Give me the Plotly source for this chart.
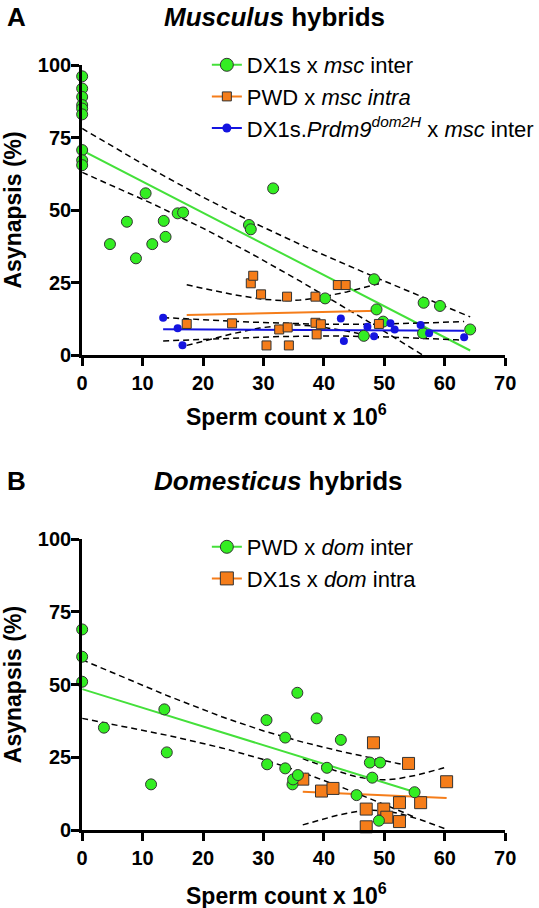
import numpy as np
import plotly.graph_objects as go

# ---------------- data ----------------
# Panel A: Musculus hybrids
a_dx1s_x = [0, 0, 0, 0, 0, 0, 0, 0, 0, 4.6, 7.4, 8.9, 10.5, 11.6, 13.5, 13.8, 15.8, 16.7,
            27.6, 27.9, 31.6, 40.2, 46.6, 48.3, 48.7, 49.8, 56.4, 56.5, 59.2, 64.2]
a_dx1s_y = [96.1, 91.9, 89.0, 86.2, 85.0, 83.0, 70.7, 67.2, 65.5, 38.3, 46.0, 33.4, 55.8, 38.3,
            46.3, 40.8, 48.9, 49.2, 44.9, 43.4, 57.5, 19.6, 6.7, 26.2, 15.8, 11.6, 7.6, 18.1, 17.0, 8.9]

a_pwd_x = [17.3, 24.8, 27.9, 28.3, 29.6, 30.5, 32.6, 33.9, 34.0, 34.2, 38.6, 38.6, 38.8, 39.5,
           42.3, 43.6, 49.1]
a_pwd_y = [10.8, 11.0, 24.8, 27.4, 21.0, 3.4, 8.9, 20.2, 9.6, 3.4, 20.2, 11.2, 7.2, 10.7,
           24.2, 24.2, 10.8]

a_prdm_x = [13.4, 15.8, 16.6, 42.8, 43.3, 47.2, 48.3, 51.0, 51.7, 56.0, 57.4, 63.2]
a_prdm_y = [12.9, 9.3, 3.5, 12.7, 4.9, 9.8, 6.6, 11.0, 8.9, 10.4, 7.6, 6.2]

# Panel B: Domesticus hybrids
b_pwd_x = [0, 0, 0, 3.6, 11.4, 13.6, 14.0, 30.5, 30.6, 33.6, 33.6, 34.8, 34.9, 35.7, 35.6,
           38.8, 40.5, 42.8, 45.4, 47.6, 48.0, 49.1, 49.3, 55.0]
b_pwd_y = [69.0, 59.6, 51.0, 35.2, 15.7, 41.5, 26.7, 37.8, 22.6, 31.8, 21.2, 15.7, 17.4, 18.9,
           47.2, 38.4, 21.4, 31.0, 12.0, 23.2, 18.0, 3.2, 23.2, 13.0]

b_dx1s_x = [36.5, 39.6, 41.5, 47.0, 47.0, 48.2, 49.9, 50.4, 52.5, 52.5, 54.0, 56.0, 60.3]
b_dx1s_y = [17.5, 13.4, 14.3, 7.2, 1.1, 30.0, 7.2, 4.4, 9.4, 2.9, 22.9, 9.4, 16.6]

x_ticks = [0, 10, 20, 30, 40, 50, 60, 70]
y_ticks = [0, 25, 50, 75, 100]

names_a = ["DX1s x <i>msc</i> inter", "PWD x <i>msc intra</i>",
           "DX1s.<i>Prdm9<sup>dom2H</sup></i> x <i>msc</i> inter"]
names_b = ["PWD x <i>dom</i> inter", "DX1s x <i>dom</i> intra"]

GREEN = "#33EE22"
GREEN_LINE = "#44E03A"
ORANGE = "#F57D1A"
BLUE = "#1414E0"
EDGE = "#333333"
FONT = "Liberation Sans, Arial, sans-serif"


def t975(df):
    z = 1.959964
    g1 = (z**3 + z) / 4
    g2 = (5 * z**5 + 16 * z**3 + 3 * z) / 96
    g3 = (3 * z**7 + 19 * z**5 + 17 * z**3 - 15 * z) / 384
    g4 = (79 * z**9 + 776 * z**7 + 1482 * z**5 - 1920 * z**3 - 945 * z) / 92160
    return z + g1 / df + g2 / df**2 + g3 / df**3 + g4 / df**4


def linfit(x, y):
    x = np.asarray(x, float)
    y = np.asarray(y, float)
    n = len(x)
    b, a = np.polyfit(x, y, 1)
    xs = np.linspace(x.min(), x.max(), 120)
    yh = a + b * xs
    resid = y - (a + b * x)
    s = np.sqrt(np.sum(resid**2) / (n - 2))
    sxx = np.sum((x - x.mean())**2)
    hw = t975(n - 2) * s * np.sqrt(1 / n + (xs - x.mean())**2 / sxx)
    return xs, yh, yh - hw, yh + hw


fig = go.Figure()


def add_group(x, y, name, color, line_color, symbol, msize, edge, xa, ya, legend, lsize):
    xs, yh, lo, hi = linfit(x, y)
    for band in (lo, hi):
        fig.add_trace(go.Scatter(x=xs, y=band, mode="lines", xaxis=xa, yaxis=ya,
                                 line=dict(color="black", width=1.5, dash="6px,4px"),
                                 showlegend=False, hoverinfo="skip"))
    fig.add_trace(go.Scatter(x=xs, y=yh, mode="lines", xaxis=xa, yaxis=ya,
                             line=dict(color=line_color, width=2),
                             showlegend=False, hoverinfo="skip"))
    return dict(x=x, y=y, name=name, color=color, line_color=line_color, symbol=symbol,
                msize=msize, edge=edge, xa=xa, ya=ya, legend=legend, lsize=lsize)


groups = []
groups.append(add_group(a_dx1s_x, a_dx1s_y, names_a[0], GREEN, GREEN_LINE, "circle", 11, 1, "x", "y", "legend", 13))
groups.append(add_group(a_pwd_x, a_pwd_y, names_a[1], ORANGE, ORANGE, "square", 9, 1, "x", "y", "legend", 9))
groups.append(add_group(a_prdm_x, a_prdm_y, names_a[2], BLUE, BLUE, "circle", 8, 0, "x", "y", "legend", 9))
groups.append(add_group(b_dx1s_x, b_dx1s_y, names_b[1], ORANGE, ORANGE, "square", 12, 1, "x2", "y2", "legend2", 13))
groups.append(add_group(b_pwd_x, b_pwd_y, names_b[0], GREEN, GREEN_LINE, "circle", 11, 1, "x2", "y2", "legend2", 13))

for g in groups:
    fig.add_trace(go.Scatter(x=g["x"], y=g["y"], mode="markers", xaxis=g["xa"], yaxis=g["ya"],
                             marker=dict(color=g["color"], symbol=g["symbol"], size=g["msize"],
                                         line=dict(color=EDGE, width=g["edge"])),
                             cliponaxis=False, showlegend=False, name=g["name"]))

# legend entries (line + marker symbols, GraphPad style)
legend_order = [0, 1, 2, 4, 3]
for i, idx in enumerate(legend_order):
    g = groups[idx]
    fig.add_trace(go.Scatter(x=[None], y=[None], mode="lines+markers", xaxis=g["xa"], yaxis=g["ya"],
                             name=g["name"], legend=g["legend"], legendrank=i,
                             line=dict(color=g["line_color"], width=2),
                             marker=dict(color=g["color"], symbol=g["symbol"], size=g["lsize"],
                                         line=dict(color=EDGE, width=g["edge"]))))

W, H = 539, 908
x0, x1 = 85 / W, 522.7 / W
ya_dom = [(H - 355.3) / H, (H - 65) / H]
yb_dom = [(H - 830) / H, (H - 539.3) / H]

axis_common = dict(showline=True, linewidth=3, linecolor="black", ticks="outside", ticklen=8,
                   tickwidth=3, tickcolor="black", showgrid=False, zeroline=False,
                   tickfont=dict(family=FONT, size=20, color="black", weight="bold"),
                   automargin=False)

fig.update_layout(
    width=W, height=H, margin=dict(l=0, r=0, t=0, b=0),
    paper_bgcolor="white", plot_bgcolor="white",
    font=dict(family=FONT, color="black"),
    xaxis=dict(domain=[x0, x1], range=[0, 70], tickvals=x_ticks, anchor="y", **axis_common),
    yaxis=dict(domain=ya_dom, range=[0, 100], tickvals=y_ticks, anchor="x",
               ticklabelstandoff=-4, **axis_common),
    xaxis2=dict(domain=[x0, x1], range=[0, 70], tickvals=x_ticks, anchor="y2", **axis_common),
    yaxis2=dict(domain=yb_dom, range=[0, 100], tickvals=y_ticks, anchor="x2",
                ticklabelstandoff=-4, **axis_common),
    legend=dict(x=214 / W, y=(H - 44) / H, xanchor="left", yanchor="top",
                bgcolor="rgba(0,0,0,0)", font=dict(family=FONT, size=22, color="black"),
                itemwidth=30, tracegroupgap=0),
    legend2=dict(x=214 / W, y=(H - 526) / H, xanchor="left", yanchor="top",
                 bgcolor="rgba(0,0,0,0)", font=dict(family=FONT, size=22, color="black"),
                 itemwidth=30, tracegroupgap=0),
    showlegend=True,
)

ann = []
bold_font = dict(family=FONT, color="black", weight="bold")
# panel letters and titles
ann.append(dict(text="A", x=5 / W, y=1, xanchor="left", yanchor="top",
                font=dict(size=26, **bold_font)))
ann.append(dict(text="<i>Musculus</i> hybrids", x=284 / W, y=1, xanchor="center",
                yanchor="top", font=dict(size=26, **bold_font)))
ann.append(dict(text="B", x=5 / W, y=(H - 481) / H, xanchor="left", yanchor="middle",
                font=dict(size=26, **bold_font)))
ann.append(dict(text="<i>Domesticus</i> hybrids", x=288 / W, y=(H - 481) / H, xanchor="center",
                yanchor="middle", font=dict(size=26, **bold_font)))
# axis titles
for yc, xc in [(210, 415), (684.6, 894)]:
    ann.append(dict(text="Asynapsis (%)", x=13 / W, y=(H - yc) / H, xanchor="center",
                    yanchor="middle", textangle=-90, font=dict(size=23, **bold_font)))
    ann.append(dict(text="Sperm count x 10<sup>6</sup>", x=296 / W, y=(H - xc) / H,
                    xanchor="center", yanchor="middle", font=dict(size=23, **bold_font)))
for a in ann:
    a.update(xref="paper", yref="paper", showarrow=False)
fig.update_layout(annotations=ann)

fig.write_html("out.html", config={"displayModeBar": False},
               post_script="document.body.style.margin='0px';")
